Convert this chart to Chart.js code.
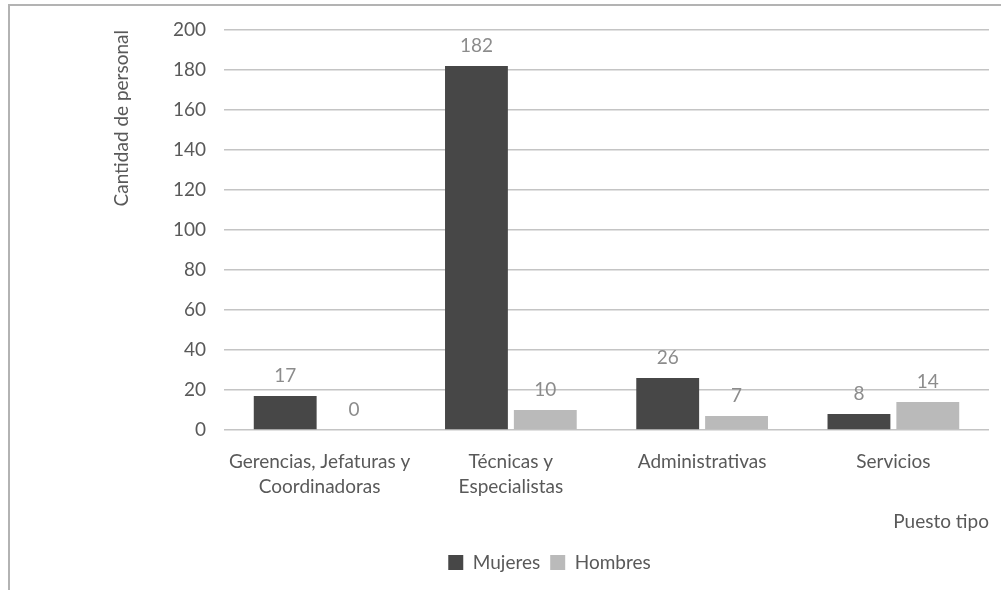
<!DOCTYPE html>
<html>
<head>
<meta charset="utf-8">
<script src="https://cdn.jsdelivr.net/npm/chart.js@4"></script>
<style>
html,body{margin:0;padding:0;background:#fff;}
#wrap{position:relative;width:1001px;height:590px;overflow:hidden;}
#frame{position:absolute;left:8px;top:4px;width:1200px;height:800px;border-left:2px solid #b3b3b3;border-top:2px solid #b3b3b3;}
canvas{position:absolute;left:0;top:0;}
</style>
</head>
<body>
<div id="wrap">
<div id="frame"></div>
<canvas id="c" width="1001" height="590"></canvas>
</div>
<script>
const categories = [["Gerencias, Jefaturas y","Coordinadoras"],["Técnicas y","Especialistas"],"Administrativas","Servicios"];
const mujeres = [17, 182, 26, 8];
const hombres = [0, 10, 7, 14];
const seriesNames = ["Mujeres", "Hombres"];
const yTitle = "Cantidad de personal";
const xTitle = "Puesto tipo";

const FONT = "Lato, 'Open Sans', sans-serif";
const FS = 19;

const valueLabels = {
  id: 'valueLabels',
  afterDatasetsDraw(chart) {
    const ctx = chart.ctx;
    ctx.save();
    ctx.font = FS + "px " + FONT;
    ctx.fillStyle = "#8c8c8c";
    ctx.textAlign = "center";
    ctx.textBaseline = "middle";
    chart.data.datasets.forEach((ds, i) => {
      const meta = chart.getDatasetMeta(i);
      meta.data.forEach((el, j) => {
        ctx.fillText(String(ds.data[j]), el.x, el.y - 20);
      });
    });
    ctx.restore();
  }
};

new Chart(document.getElementById('c'), {
  type: 'bar',
  data: {
    labels: categories,
    datasets: [
      {label: seriesNames[0], data: mujeres, backgroundColor: '#474747', categoryPercentage: 0.72, barPercentage: 0.913},
      {label: seriesNames[1], data: hombres, backgroundColor: '#bababa', categoryPercentage: 0.72, barPercentage: 0.913}
    ]
  },
  options: {
    responsive: false,
    animation: false,
    devicePixelRatio: 1,
    layout: {padding: {left: 110, right: 12, top: 30, bottom: 8}},
    plugins: {
      legend: {
        position: 'bottom',
        labels: {boxWidth: 15, boxHeight: 15, color: '#595959', font: {family: FONT, size: FS}, padding: 10}
      },
      tooltip: {enabled: false}
    },
    scales: {
      x: {
        grid: {display: false},
        border: {display: false},
        ticks: {color: '#595959', font: {family: FONT, size: FS, lineHeight: 1.316}, padding: 11, maxRotation: 0, autoSkip: false},
        title: {display: true, text: xTitle, align: 'end', color: '#595959', font: {family: FONT, size: FS}, padding: {top: 0, bottom: 10}},
        afterFit(s) { s.height = 113; }
      },
      y: {
        min: 0, max: 200,
        ticks: {stepSize: 20, color: '#595959', font: {family: FONT, size: FS}, padding: 18},
        grid: {color: '#c4c4c4', lineWidth: 1.6, drawTicks: false},
        border: {display: false},
        title: {display: true, text: yTitle, align: 'end', color: '#595959', font: {family: FONT, size: FS}, padding: 0},
        afterFit(s) { s.width = 114; }
      }
    }
  },
  plugins: [valueLabels]
});
</script>
</body>
</html>
